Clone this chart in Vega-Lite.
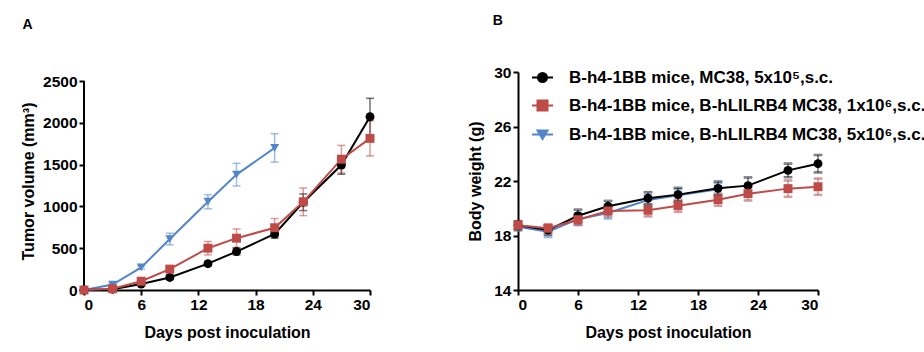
{
  "$schema": "https://vega.github.io/schema/vega-lite/v6.json",
  "padding": {"left": 20, "top": 14, "right": 0, "bottom": 0},
  "background": "white",
  "config": {
    "view": {"stroke": null},
    "font": "Liberation Sans",
    "axis": {
      "grid": false,
      "domainColor": "#000000",
      "domainWidth": 2,
      "tickColor": "#000000",
      "tickWidth": 2,
      "tickSize": 5,
      "labelFont": "Liberation Sans",
      "labelFontWeight": "bold",
      "labelFontSize": 15.5,
      "labelColor": "#000000",
      "labelPadding": 2,
      "format": "d",
      "titleFont": "Liberation Sans",
      "titleFontWeight": "bold",
      "titleFontSize": 16,
      "titleColor": "#000000"
    },
    "title": {"font": "Liberation Sans", "fontSize": 14, "fontWeight": "bold", "color": "#000000", "anchor": "start"}
  },
  "resolve": {"scale": {"color": "independent", "shape": "independent", "fill": "independent", "stroke": "independent"}, "legend": {"color": "independent", "shape": "independent", "fill": "independent", "stroke": "independent"}},
  "datasets": {
    "tumor": [
      {"s": "B-h4-1BB mice, B-hLILRB4 MC38, 5x10⁶,s.c.", "d": 0, "m": 0, "lo": 0, "hi": 0},
      {"s": "B-h4-1BB mice, B-hLILRB4 MC38, 5x10⁶,s.c.", "d": 3, "m": 65, "lo": 53, "hi": 77},
      {"s": "B-h4-1BB mice, B-hLILRB4 MC38, 5x10⁶,s.c.", "d": 6, "m": 270, "lo": 250, "hi": 290},
      {"s": "B-h4-1BB mice, B-hLILRB4 MC38, 5x10⁶,s.c.", "d": 9, "m": 610, "lo": 540, "hi": 680},
      {"s": "B-h4-1BB mice, B-hLILRB4 MC38, 5x10⁶,s.c.", "d": 13, "m": 1056, "lo": 971, "hi": 1141},
      {"s": "B-h4-1BB mice, B-hLILRB4 MC38, 5x10⁶,s.c.", "d": 16, "m": 1380, "lo": 1245, "hi": 1515},
      {"s": "B-h4-1BB mice, B-hLILRB4 MC38, 5x10⁶,s.c.", "d": 20, "m": 1700, "lo": 1530, "hi": 1870},
      {"s": "B-h4-1BB mice, MC38, 5x10⁵,s.c.", "d": 0, "m": 0, "lo": 0, "hi": 0},
      {"s": "B-h4-1BB mice, MC38, 5x10⁵,s.c.", "d": 3, "m": 10, "lo": 2, "hi": 18},
      {"s": "B-h4-1BB mice, MC38, 5x10⁵,s.c.", "d": 6, "m": 72, "lo": 52, "hi": 92},
      {"s": "B-h4-1BB mice, MC38, 5x10⁵,s.c.", "d": 9, "m": 150, "lo": 125, "hi": 175},
      {"s": "B-h4-1BB mice, MC38, 5x10⁵,s.c.", "d": 13, "m": 315, "lo": 290, "hi": 340},
      {"s": "B-h4-1BB mice, MC38, 5x10⁵,s.c.", "d": 16, "m": 460, "lo": 420, "hi": 500},
      {"s": "B-h4-1BB mice, MC38, 5x10⁵,s.c.", "d": 20, "m": 670, "lo": 620, "hi": 720},
      {"s": "B-h4-1BB mice, MC38, 5x10⁵,s.c.", "d": 23, "m": 1050, "lo": 950, "hi": 1150},
      {"s": "B-h4-1BB mice, MC38, 5x10⁵,s.c.", "d": 27, "m": 1495, "lo": 1385, "hi": 1605},
      {"s": "B-h4-1BB mice, MC38, 5x10⁵,s.c.", "d": 30, "m": 2073, "lo": 1853, "hi": 2293},
      {"s": "B-h4-1BB mice, B-hLILRB4 MC38, 1x10⁶,s.c.", "d": 0, "m": 0, "lo": 0, "hi": 0},
      {"s": "B-h4-1BB mice, B-hLILRB4 MC38, 1x10⁶,s.c.", "d": 3, "m": 15, "lo": 7, "hi": 23},
      {"s": "B-h4-1BB mice, B-hLILRB4 MC38, 1x10⁶,s.c.", "d": 6, "m": 105, "lo": 85, "hi": 125},
      {"s": "B-h4-1BB mice, B-hLILRB4 MC38, 1x10⁶,s.c.", "d": 9, "m": 250, "lo": 220, "hi": 280},
      {"s": "B-h4-1BB mice, B-hLILRB4 MC38, 1x10⁶,s.c.", "d": 13, "m": 500, "lo": 420, "hi": 580},
      {"s": "B-h4-1BB mice, B-hLILRB4 MC38, 1x10⁶,s.c.", "d": 16, "m": 620, "lo": 510, "hi": 730},
      {"s": "B-h4-1BB mice, B-hLILRB4 MC38, 1x10⁶,s.c.", "d": 20, "m": 745, "lo": 635, "hi": 855},
      {"s": "B-h4-1BB mice, B-hLILRB4 MC38, 1x10⁶,s.c.", "d": 23, "m": 1055, "lo": 890, "hi": 1220},
      {"s": "B-h4-1BB mice, B-hLILRB4 MC38, 1x10⁶,s.c.", "d": 27, "m": 1565, "lo": 1400, "hi": 1730},
      {"s": "B-h4-1BB mice, B-hLILRB4 MC38, 1x10⁶,s.c.", "d": 30, "m": 1814, "lo": 1604, "hi": 2024}
    ],
    "tumoraxis": [
      {"d": 0, "y0": 0, "y1": 2500}
    ],
    "bw": [
      {"s": "B-h4-1BB mice, B-hLILRB4 MC38, 5x10⁶,s.c.", "d": 0, "m": 18.65, "lo": 18.35, "hi": 18.95},
      {"s": "B-h4-1BB mice, B-hLILRB4 MC38, 5x10⁶,s.c.", "d": 3, "m": 18.28, "lo": 17.88, "hi": 18.68},
      {"s": "B-h4-1BB mice, B-hLILRB4 MC38, 5x10⁶,s.c.", "d": 6, "m": 19.2, "lo": 18.8, "hi": 19.6},
      {"s": "B-h4-1BB mice, B-hLILRB4 MC38, 5x10⁶,s.c.", "d": 9, "m": 19.65, "lo": 19.25, "hi": 20.05},
      {"s": "B-h4-1BB mice, B-hLILRB4 MC38, 5x10⁶,s.c.", "d": 13, "m": 20.6, "lo": 20.2, "hi": 21.0},
      {"s": "B-h4-1BB mice, B-hLILRB4 MC38, 5x10⁶,s.c.", "d": 16, "m": 20.95, "lo": 20.5, "hi": 21.4},
      {"s": "B-h4-1BB mice, B-hLILRB4 MC38, 5x10⁶,s.c.", "d": 20, "m": 21.4, "lo": 20.95, "hi": 21.85},
      {"s": "B-h4-1BB mice, MC38, 5x10⁵,s.c.", "d": 0, "m": 18.75, "lo": 18.45, "hi": 19.05},
      {"s": "B-h4-1BB mice, MC38, 5x10⁵,s.c.", "d": 3, "m": 18.4, "lo": 18.05, "hi": 18.75},
      {"s": "B-h4-1BB mice, MC38, 5x10⁵,s.c.", "d": 6, "m": 19.45, "lo": 19.0, "hi": 19.9},
      {"s": "B-h4-1BB mice, MC38, 5x10⁵,s.c.", "d": 9, "m": 20.14, "lo": 19.74, "hi": 20.54},
      {"s": "B-h4-1BB mice, MC38, 5x10⁵,s.c.", "d": 13, "m": 20.73, "lo": 20.28, "hi": 21.18},
      {"s": "B-h4-1BB mice, MC38, 5x10⁵,s.c.", "d": 16, "m": 21.0, "lo": 20.5, "hi": 21.5},
      {"s": "B-h4-1BB mice, MC38, 5x10⁵,s.c.", "d": 20, "m": 21.46, "lo": 20.96, "hi": 21.96},
      {"s": "B-h4-1BB mice, MC38, 5x10⁵,s.c.", "d": 23, "m": 21.66, "lo": 21.06, "hi": 22.26},
      {"s": "B-h4-1BB mice, MC38, 5x10⁵,s.c.", "d": 27, "m": 22.78, "lo": 22.28, "hi": 23.28},
      {"s": "B-h4-1BB mice, MC38, 5x10⁵,s.c.", "d": 30, "m": 23.27, "lo": 22.63, "hi": 23.91},
      {"s": "B-h4-1BB mice, B-hLILRB4 MC38, 1x10⁶,s.c.", "d": 0, "m": 18.75, "lo": 18.45, "hi": 19.05},
      {"s": "B-h4-1BB mice, B-hLILRB4 MC38, 1x10⁶,s.c.", "d": 3, "m": 18.53, "lo": 18.23, "hi": 18.83},
      {"s": "B-h4-1BB mice, B-hLILRB4 MC38, 1x10⁶,s.c.", "d": 6, "m": 19.16, "lo": 18.76, "hi": 19.56},
      {"s": "B-h4-1BB mice, B-hLILRB4 MC38, 1x10⁶,s.c.", "d": 9, "m": 19.8, "lo": 19.4, "hi": 20.2},
      {"s": "B-h4-1BB mice, B-hLILRB4 MC38, 1x10⁶,s.c.", "d": 13, "m": 19.85, "lo": 19.4, "hi": 20.3},
      {"s": "B-h4-1BB mice, B-hLILRB4 MC38, 1x10⁶,s.c.", "d": 16, "m": 20.19, "lo": 19.74, "hi": 20.64},
      {"s": "B-h4-1BB mice, B-hLILRB4 MC38, 1x10⁶,s.c.", "d": 20, "m": 20.63, "lo": 20.18, "hi": 21.08},
      {"s": "B-h4-1BB mice, B-hLILRB4 MC38, 1x10⁶,s.c.", "d": 23, "m": 21.07, "lo": 20.57, "hi": 21.57},
      {"s": "B-h4-1BB mice, B-hLILRB4 MC38, 1x10⁶,s.c.", "d": 27, "m": 21.44, "lo": 20.84, "hi": 22.04},
      {"s": "B-h4-1BB mice, B-hLILRB4 MC38, 1x10⁶,s.c.", "d": 30, "m": 21.58, "lo": 20.98, "hi": 22.18}
    ]
  },
  "spacing": 92,
  "hconcat": [
    {
      "title": {"text": "A", "dx": 2, "offset": 40},
      "width": 286,
      "height": 218,
      "encoding": {
        "x": {"field": "d", "type": "quantitative", "scale": {"domain": [0, 30], "nice": false}, "axis": {"values": [0, 6, 12, 18, 24, 30], "title": "Days post inoculation", "titlePadding": 12}}
      },
      "layer": [
        {
          "data": {"name": "tumoraxis"},
          "mark": {"type": "rule", "color": "#000000", "strokeWidth": 2},
          "encoding": {
            "y": {"field": "y0", "type": "quantitative", "title": "Tumor volume (mm³)", "scale": {"domain": [0, 2608], "nice": false}, "axis": {"values": [0, 500, 1000, 1500, 2000, 2500], "titlePadding": 6, "domain": false}},
            "y2": {"field": "y1"}
          }
        },
        {
          "data": {"name": "tumor"},
          "mark": {"type": "errorbar", "ticks": {"size": 8, "thickness": 1.5}, "thickness": 1.5, "opacity": 0.55},
          "encoding": {
            "y": {"field": "lo", "type": "quantitative", "title": "Tumor volume (mm³)"},
            "y2": {"field": "hi"},
            "color": {"field": "s", "type": "nominal", "scale": {"domain": ["B-h4-1BB mice, MC38, 5x10⁵,s.c.", "B-h4-1BB mice, B-hLILRB4 MC38, 1x10⁶,s.c.", "B-h4-1BB mice, B-hLILRB4 MC38, 5x10⁶,s.c."], "range": ["#000000", "#BE4B48", "#5386C8"]}, "legend": null}
          }
        },
        {
          "data": {"name": "tumor"},
          "mark": {"type": "line", "strokeWidth": 2},
          "encoding": {
            "y": {"field": "m", "type": "quantitative", "title": "Tumor volume (mm³)"},
            "color": {"field": "s", "type": "nominal", "legend": null}
          }
        },
        {
          "data": {"name": "tumor"},
          "mark": {"type": "point", "filled": true, "opacity": 1, "size": 80},
          "encoding": {
            "y": {"field": "m", "type": "quantitative", "title": "Tumor volume (mm³)"},
            "color": {"field": "s", "type": "nominal", "legend": null},
            "shape": {"field": "s", "type": "nominal", "scale": {"domain": ["B-h4-1BB mice, MC38, 5x10⁵,s.c.", "B-h4-1BB mice, B-hLILRB4 MC38, 1x10⁶,s.c.", "B-h4-1BB mice, B-hLILRB4 MC38, 5x10⁶,s.c."], "range": ["circle", "square", "triangle-down"]}, "legend": null}
          }
        }
      ]
    },
    {
      "title": {"text": "B", "dx": 25, "offset": 37},
      "width": 300,
      "height": 218,
      "data": {"name": "bw"},
      "encoding": {
        "x": {"field": "d", "type": "quantitative", "scale": {"domain": [0, 30], "nice": false}, "axis": {"values": [0, 6, 12, 18, 24, 30], "title": "Days post inoculation", "titlePadding": 12}}
      },
      "layer": [
        {
          "mark": {"type": "errorbar", "ticks": {"size": 8, "thickness": 1.5}, "thickness": 1.5, "opacity": 0.55},
          "encoding": {
            "y": {"field": "lo", "type": "quantitative", "title": "Body weight (g)", "scale": {"domain": [14, 30], "nice": false, "zero": false}, "axis": {"values": [14, 18, 22, 26, 30], "titlePadding": 10}},
            "y2": {"field": "hi"},
            "stroke": {"field": "s", "type": "nominal", "scale": {"domain": ["B-h4-1BB mice, B-hLILRB4 MC38, 1x10⁶,s.c.", "B-h4-1BB mice, B-hLILRB4 MC38, 5x10⁶,s.c.", "B-h4-1BB mice, MC38, 5x10⁵,s.c."], "range": ["#BE4B48", "#5386C8", "#000000"]}, "legend": null}
          }
        },
        {
          "mark": {"type": "line", "strokeWidth": 2},
          "encoding": {
            "y": {"field": "m", "type": "quantitative", "title": "Body weight (g)"},
            "color": {
              "field": "s", "type": "nominal",
              "scale": {"domain": ["B-h4-1BB mice, MC38, 5x10⁵,s.c.", "B-h4-1BB mice, B-hLILRB4 MC38, 1x10⁶,s.c.", "B-h4-1BB mice, B-hLILRB4 MC38, 5x10⁶,s.c."], "range": ["#000000", "#BE4B48", "#5386C8"]},
              "legend": {
                "title": null,
                "orient": "none",
                "legendX": 16,
                "legendY": -3,
                "labelFont": "Liberation Sans",
                "labelFontSize": 17,
                "labelFontWeight": "bold",
                "labelColor": "#000000",
                "labelOffset": 18,
                "labelLimit": 500,
                "rowPadding": 10,
                "symbolSize": 100,
                "symbolStrokeWidth": 2,
                "encode": {
                  "symbols": {
                    "update": {
                      "shape": {"signal": "datum.value === 'B-h4-1BB mice, MC38, 5x10⁵,s.c.' ? 'M-2.1,0H2.1M0.9,0A0.9,0.9,0,1,1,-0.9,0A0.9,0.9,0,1,1,0.9,0Z' : datum.value === 'B-h4-1BB mice, B-hLILRB4 MC38, 1x10⁶,s.c.' ? 'M-2.1,0H2.1M-1,-1H1V1H-1Z' : 'M-2.1,0H2.1M-1,-0.8H1L0,0.9Z'"},
                      "fill": {"signal": "datum.value === 'B-h4-1BB mice, MC38, 5x10⁵,s.c.' ? '#000000' : datum.value === 'B-h4-1BB mice, B-hLILRB4 MC38, 1x10⁶,s.c.' ? '#BE4B48' : '#5386C8'"},
                      "strokeWidth": {"value": 2},
                      "opacity": {"value": 1}
                    }
                  }
                }
              }
            }
          }
        },
        {
          "mark": {"type": "point", "filled": true, "opacity": 1, "size": 80},
          "encoding": {
            "y": {"field": "m", "type": "quantitative", "title": "Body weight (g)"},
            "fill": {"field": "s", "type": "nominal", "scale": {"domain": ["B-h4-1BB mice, B-hLILRB4 MC38, 5x10⁶,s.c.", "B-h4-1BB mice, MC38, 5x10⁵,s.c.", "B-h4-1BB mice, B-hLILRB4 MC38, 1x10⁶,s.c."], "range": ["#5386C8", "#000000", "#BE4B48"]}, "legend": null},
            "shape": {"field": "s", "type": "nominal", "scale": {"domain": ["B-h4-1BB mice, B-hLILRB4 MC38, 5x10⁶,s.c.", "B-h4-1BB mice, B-hLILRB4 MC38, 1x10⁶,s.c.", "B-h4-1BB mice, MC38, 5x10⁵,s.c."], "range": ["triangle-down", "square", "circle"]}, "legend": null}
          }
        }
      ]
    }
  ]
}
